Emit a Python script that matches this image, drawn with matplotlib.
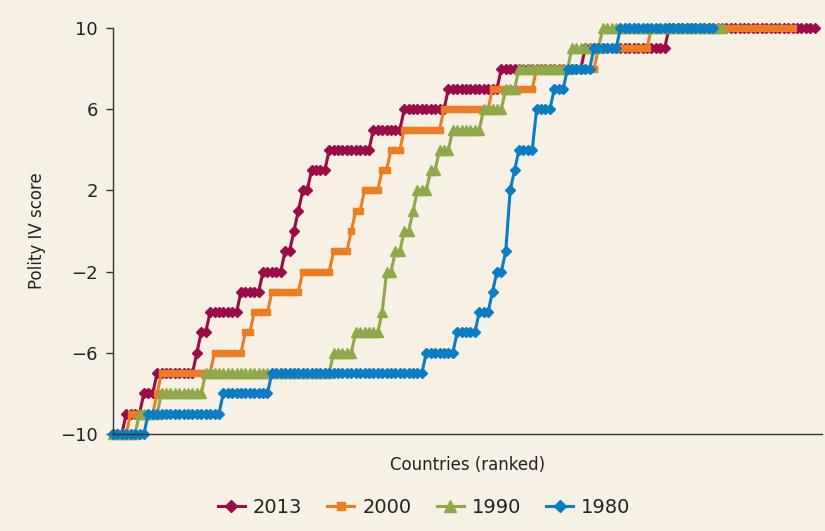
import numpy as np
import matplotlib
matplotlib.use("Agg")
import matplotlib.pyplot as plt

# Polity IV scores, sorted by country: each score level and how many countries sit on it
levels_2013 = [-10, -9, -8, -7, -6, -5, -4, -3, -2, -1, 0, 1, 2, 3, 4, 5, 6, 7, 8, 9, 10]
counts_2013 = [3, 4, 3, 9, 1, 2, 7, 5, 5, 2, 1, 1, 2, 4, 10, 7, 10, 12, 19, 19, 34]

levels_2000 = [-10, -9, -8, -7, -6, -5, -4, -3, -2, -1, 0, 1, 2, 3, 4, 5, 6, 7, 8, 9, 10]
counts_2000 = [4, 6, 1, 12, 7, 2, 4, 7, 7, 4, 1, 2, 4, 2, 3, 9, 11, 10, 14, 12, 33]

levels_1990 = [-10, -9, -8, -7, -6, -5, -4, -2, -1, 0, 1, 2, 3, 4, 5, 6, 7, 8, 9, 10]
counts_1990 = [6, 5, 10, 29, 5, 6, 1, 2, 2, 2, 1, 3, 2, 3, 7, 5, 3, 12, 7, 28]

levels_1980 = [-10, -9, -8, -7, -6, -5, -4, -3, -2, -1, 2, 3, 4, 6, 7, 8, 9, 10]
counts_1980 = [8, 17, 11, 35, 7, 5, 3, 1, 2, 1, 1, 1, 4, 4, 3, 6, 6, 22]

series = [
    ("2013", levels_2013, counts_2013, "#9c0b47", "D", 5.5),
    ("2000", levels_2000, counts_2000, "#ec7d22", "s", 5.0),
    ("1990", levels_1990, counts_1990, "#8fa84a", "^", 7.0),
    ("1980", levels_1980, counts_1980, "#0a7dc5", "D", 5.5),
]

bg = "#f6f1e4"
fig = plt.figure(figsize=(8.25, 5.31), dpi=100, facecolor=bg)
ax = fig.add_axes([0.137, 0.183, 0.859, 0.764], facecolor=bg)

for name, lv, ct, col, mk, ms in series:
    y = np.repeat(lv, ct)
    x = np.arange(len(y))
    ax.plot(x, y, color=col, lw=2.2, marker=mk, ms=ms, mec=col, mfc=col,
            label=name, clip_on=False)

ax.set_xlim(0, 160.6)
ax.set_ylim(-10, 10)
ax.set_yticks([-10, -6, -2, 2, 6, 10])
ax.set_yticklabels(["\u221210", "\u22126", "\u22122", "2", "6", "10"])
ax.set_xticks([])
for s in ["top", "right"]:
    ax.spines[s].set_visible(False)
for s in ["left", "bottom"]:
    ax.spines[s].set_color("#333333")
    ax.spines[s].set_linewidth(1.0)
ax.tick_params(axis="y", length=5, width=1.0, color="#333333", labelsize=13,
               labelcolor="#222222", pad=6)
ax.set_xlabel("Countries (ranked)", fontsize=12, color="#222222", labelpad=16)
ax.set_ylabel("Polity IV score", fontsize=12, color="#222222", labelpad=10)

handles, labels = ax.get_legend_handles_labels()
leg = fig.legend(handles, labels, loc="center", bbox_to_anchor=(0.514, 0.045),
                 ncol=4, frameon=False, fontsize=14, handlelength=1.4,
                 columnspacing=1.3, handletextpad=0.4, markerscale=1.2)
for t in leg.get_texts():
    t.set_color("#222222")

fig.savefig("out.png", dpi=100, facecolor=bg)
